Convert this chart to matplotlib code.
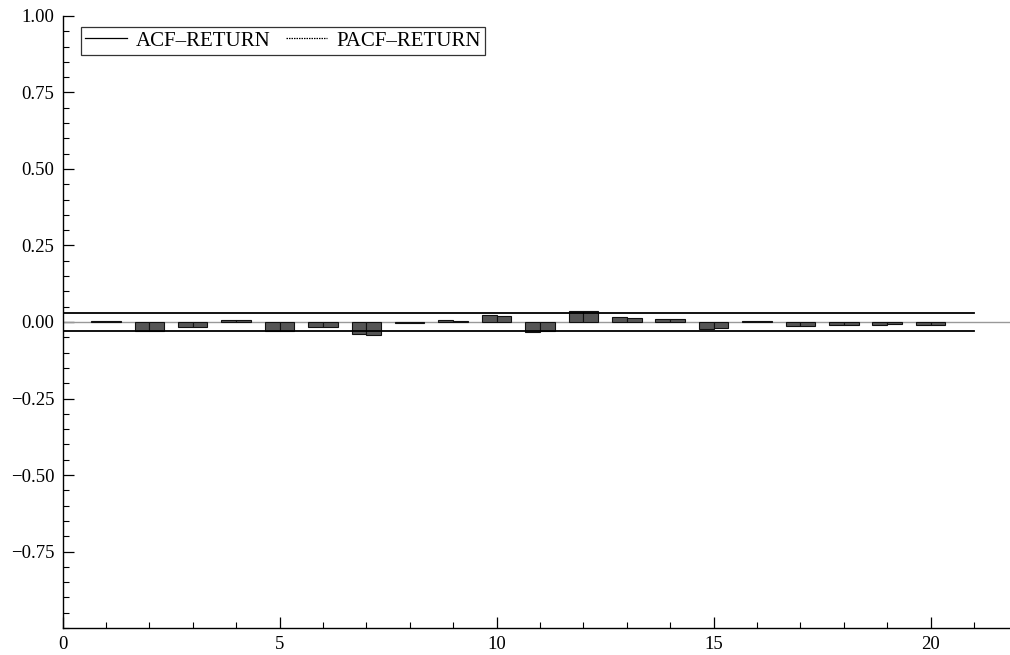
import matplotlib
matplotlib.use("Agg")
import matplotlib.pyplot as plt
import numpy as np
from matplotlib.ticker import MultipleLocator, FixedLocator
from matplotlib.lines import Line2D

plt.rcParams["font.family"] = ["Liberation Serif", "DejaVu Serif"]

lags = list(range(1, 21))
acf = [0.002, -0.030, -0.015, 0.006, -0.028, -0.016, -0.038, -0.003, 0.005, 0.024,
       -0.032, 0.037, 0.016, 0.010, -0.024, 0.004, -0.014, -0.010, -0.011, -0.010]
pacf = [0.002, -0.030, -0.015, 0.005, -0.028, -0.016, -0.042, -0.004, 0.002, 0.020,
        -0.031, 0.035, 0.013, 0.010, -0.021, 0.004, -0.012, -0.010, -0.007, -0.010]
band = 0.028
yticks = [-0.75, -0.5, -0.25, 0.0, 0.25, 0.5, 0.75, 1.0]

fig = plt.figure(figsize=(10.1, 6.55), dpi=100)
ax = fig.add_axes([0.0619, 0.0412, 0.9381, 0.9344])

x = np.array(lags)
w = 0.34
ax.bar(x - w / 2, acf, width=w, color="#555555", edgecolor="#111111", linewidth=0.8, zorder=3)
ax.bar(x + w / 2, pacf, width=w, color="#555555", edgecolor="#111111", linewidth=0.8, zorder=3)

ax.axhline(0, color="#999999", lw=1.0, zorder=2)
ax.plot([0, 21], [band, band], color="black", lw=1.3, zorder=4)
ax.plot([0, 21], [-band, -band], color="black", lw=1.3, zorder=4)

ax.set_xlim(0, 21.83)
ax.set_ylim(-1, 1)
for s in ("top", "right"):
    ax.spines[s].set_visible(False)
ax.spines["left"].set_linewidth(1.0)
ax.spines["bottom"].set_linewidth(1.0)

ax.xaxis.set_major_locator(MultipleLocator(5))
ax.xaxis.set_minor_locator(MultipleLocator(1))
ax.yaxis.set_major_locator(FixedLocator(yticks))
ax.yaxis.set_minor_locator(MultipleLocator(0.05))
ax.yaxis.set_major_formatter(matplotlib.ticker.FuncFormatter(
    lambda v, p: f"{v:.2f}".replace("-", "\u2212")))
ax.tick_params(which="major", direction="in", length=8, width=0.9, labelsize=13.5, pad=6)
ax.tick_params(which="minor", direction="in", length=4, width=0.8)

handles = [Line2D([], [], color="black", lw=0.9),
           Line2D([], [], color="black", lw=0.9, ls=(0, (1.2, 0.8)))]
leg = ax.legend(handles, ["ACF\u2013RETURN", "PACF\u2013RETURN"], loc="upper left",
                ncol=2, fontsize=15, frameon=True, fancybox=False, handlelength=2.0,
                columnspacing=0.7, handletextpad=0.45, borderpad=0.2,
                borderaxespad=0, bbox_to_anchor=(0.0195, 0.982))
leg.get_frame().set_edgecolor("black")
leg.get_frame().set_linewidth(0.9)

fig.savefig("out.png", dpi=100)
